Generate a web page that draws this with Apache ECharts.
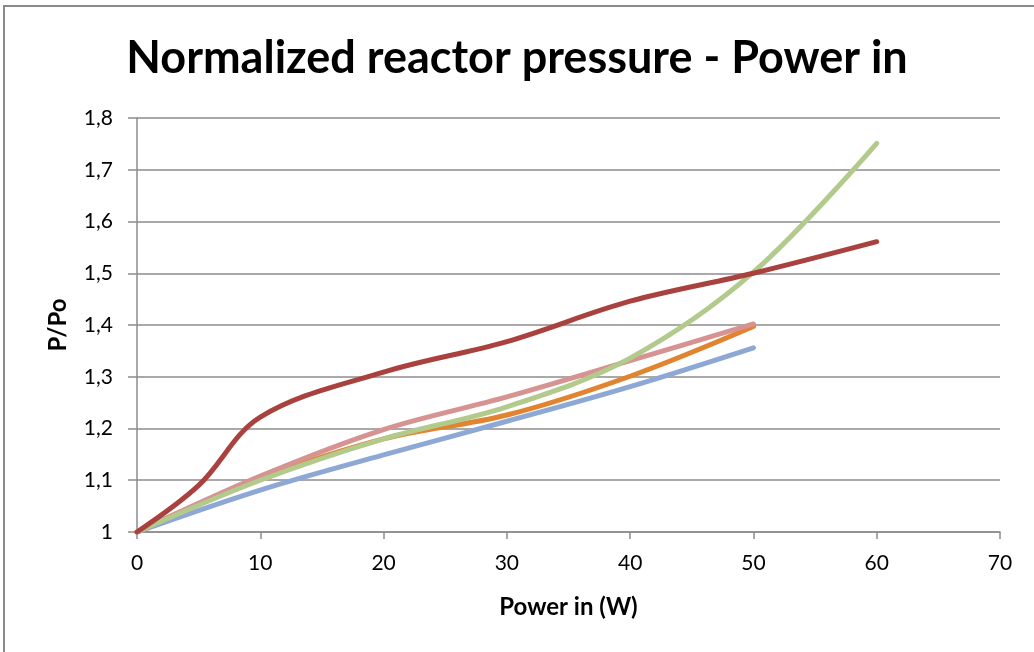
<!DOCTYPE html>
<html>
<head>
<meta charset="utf-8">
<script src="https://cdn.jsdelivr.net/npm/echarts@6/dist/echarts.min.js"></script>
<style>html,body{margin:0;padding:0;background:#fff}#c{width:1034px;height:652px}</style>
</head>
<body>
<div id="c"></div>
<script>
const titleText = 'Normalized reactor pressure - Power in';
const xName = 'Power in (W)';
const yName = 'P/Po';
const xTicks = [0, 10, 20, 30, 40, 50, 60, 70];
const yTicks = [1, 1.1, 1.2, 1.3, 1.4, 1.5, 1.6, 1.7, 1.8];

const xBlue = [0, 10, 20, 30, 40, 50];
const yBlue = [1.0, 1.081, 1.149, 1.214, 1.281, 1.356];
const xOrange = [0, 10, 20, 30, 40, 50];
const yOrange = [1.0, 1.103, 1.180, 1.226, 1.301, 1.397];
const xPink = [0, 10, 20, 30, 40, 50];
const yPink = [1.0, 1.108, 1.198, 1.261, 1.331, 1.402];
const xGreen = [0, 10, 20, 30, 40, 50, 60];
const yGreen = [1.0, 1.100, 1.180, 1.242, 1.336, 1.502, 1.751];
const xRed = [0, 5, 10, 20, 30, 40, 50, 60];
const yRed = [1.0, 1.090, 1.222, 1.309, 1.368, 1.446, 1.500, 1.561];

const colors = {blue:'#8EA8D5', orange:'#E2832F', pink:'#D69391', green:'#B2CA8B', red:'#A9423F'};
function pairs(xs, ys){ return xs.map((x,i)=>[x, ys[i]]); }
function line(name, xs, ys, color){
  return {name, type:'line', data:pairs(xs,ys), smooth:0.35, showSymbol:false, symbol:'none',
    lineStyle:{color, width:5, cap:'round'}, itemStyle:{color}};
}
const chart = echarts.init(document.getElementById('c'));
const font = 'Lato, "Open Sans", sans-serif';
chart.setOption({
  animation:false,
  backgroundColor:'#fff',
  title:{text:titleText, left:'center', top:31, textStyle:{fontFamily:font, fontWeight:'bold', fontSize:45, color:'#000'}},
  grid:{left:137, right:34, top:118, bottom:120, containLabel:false},
  graphic:[{type:'rect', shape:{x:4, y:6, width:1100, height:700}, style:{fill:'none', stroke:'#8a8a8a', lineWidth:2}, silent:true, z:-1}],
  xAxis:{type:'value', min:xTicks[0], max:xTicks[xTicks.length-1], interval:10,
    name:xName, nameLocation:'middle', nameGap:63,
    nameTextStyle:{fontFamily:font, fontWeight:'bold', fontSize:24, color:'#000'},
    axisLine:{show:true, lineStyle:{color:'#8c8c8c', width:1.5}},
    axisTick:{show:true, length:7, lineStyle:{color:'#8c8c8c', width:1.5}},
    axisLabel:{fontFamily:font, fontSize:21, color:'#000', margin:21},
    splitLine:{show:false}},
  yAxis:{type:'value', min:yTicks[0], max:yTicks[yTicks.length-1], interval:0.1,
    name:yName, nameLocation:'middle', nameGap:67, nameRotate:90,
    nameTextStyle:{fontFamily:font, fontWeight:'bold', fontSize:24, color:'#000'},
    axisLine:{show:true, lineStyle:{color:'#8c8c8c', width:1.5}},
    axisTick:{show:true, length:9, lineStyle:{color:'#8c8c8c', width:1.5}},
    axisLabel:{fontFamily:font, fontSize:21, color:'#000', margin:24,
      formatter:v=>{const r=Math.round(v*10)/10; return r===1?'1':r.toFixed(1).replace('.',',');}},
    splitLine:{show:true, lineStyle:{color:'#8c8c8c', width:1.5}}},
  series:[
    line('blue', xBlue, yBlue, colors.blue),
    line('orange', xOrange, yOrange, colors.orange),
    line('pink', xPink, yPink, colors.pink),
    line('green', xGreen, yGreen, colors.green),
    line('red', xRed, yRed, colors.red)
  ]
});
</script>
</body>
</html>
